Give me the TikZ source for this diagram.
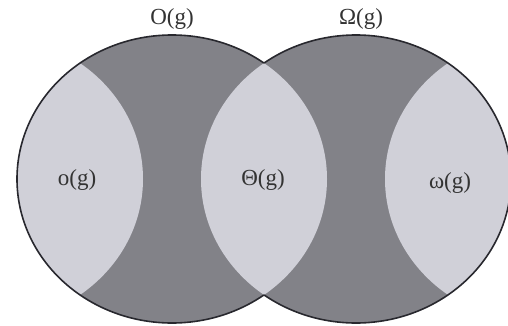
\documentclass[tikz,border=0pt]{standalone}
\usepackage{fontspec}
\setmainfont{Liberation Serif}
\usetikzlibrary{positioning}
\definecolor{setdark}{RGB}{130,130,136}
\definecolor{setlight}{RGB}{208,208,216}
\definecolor{setline}{RGB}{40,40,46}

\begin{document}
\begin{tikzpicture}[
x=1pt, y=1pt,
font=\fontsize{23}{27}\selectfont,
set/.style={draw=setline, line width=1.6pt},
lbl/.style={inner sep=0pt, text=black!80},
oval/.style={x radius=155pt, y radius=144pt}
]
\useasboundingbox (0,0) rectangle (508,325);

% --- Centres des ensembles ---
\coordinate (farL) at (-12,146);
\coordinate (bigO) at (172,146);
\coordinate (bigOm) at (356,146);
\coordinate (farR) at (540,146);

% --- Fonds sombres ---
\fill[setdark] (bigO) ellipse [oval];
\fill[setdark] (bigOm) ellipse [oval];

% --- Zones claires : o(g) et Theta(g) ---
\begin{scope}
\clip (bigO) ellipse [oval];
\fill[setlight] (farL) ellipse [oval];
\fill[setlight] (bigOm) ellipse [oval];
\end{scope}

% --- Zone claire : omega(g) ---
\begin{scope}
\clip (bigOm) ellipse [oval];
\fill[setlight] (farR) ellipse [oval];
\end{scope}

% --- Contour extérieur ---
\begin{scope}[even odd rule]
\clip (0,0) rectangle (508,325) (bigOm) ellipse [oval];
\draw[set] (bigO) ellipse [oval];
\end{scope}
\begin{scope}[even odd rule]
\clip (0,0) rectangle (508,325) (bigO) ellipse [oval];
\draw[set] (bigOm) ellipse [oval];
\end{scope}

% --- Étiquettes ---
\node[lbl] (lblO) at (172,306) {O(g)};
\node[lbl] (lblOm) at (361,306) {Ω(g)};
\node[lbl] (lblo) at (77,145) {o(g)};
\node[lbl] (lblTh) at (263,145) {Θ(g)};
\node[lbl] (lblom) at (450,142) {ω(g)};

\end{tikzpicture}
\end{document}
